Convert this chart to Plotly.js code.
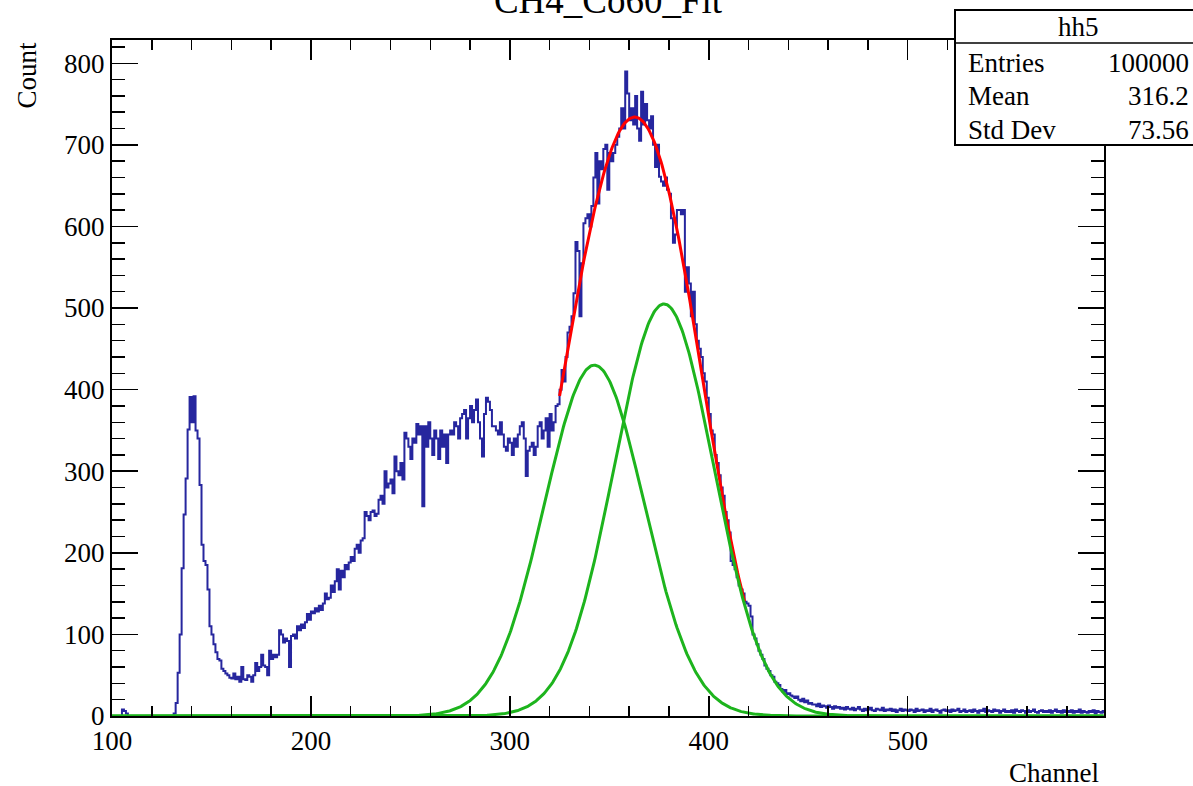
<!DOCTYPE html>
<html>
<head>
<meta charset="utf-8">
<script src="https://cdn.plot.ly/plotly-3.0.1.min.js"></script>
<style>
  html, body { margin: 0; padding: 0; background: #ffffff; }
  #chart { width: 1193px; height: 786px; }
</style>
</head>
<body>
<div id="chart"></div>
<script>
// ---------------- data ----------------
const chartTitle = "CH4_Co60_Fit";
const xTitle = "Channel";
const yTitle = "Count";
const histName = "hh5";
const statLabels = ["Entries", "Mean", "Std Dev"];
const statValues = ["100000", "316.2", "73.56"];

const binStart = 100;   // first bin low edge (channel)
const binWidth = 1;     // channel per bin

// counts per channel, 100-199
const countsA = [
  0,0,0,0,0,8,6,3,0,0,
  0,0,0,0,0,0,0,0,0,0,
  0,0,0,0,0,0,0,0,0,0,
  0,3,16,53,100,181,247,291,351,391,
  360,392,350,340,283,210,190,185,155,110,
  100,88,78,70,68,58,55,52,50,47,
  46,52,45,48,42,60,45,44,50,48,
  42,50,65,55,60,75,62,60,50,80,
  70,75,72,75,105,100,90,95,92,60,
  98,100,95,110,105,112,108,115,125,118
];
// 200-299
const countsB = [
  128,126,132,128,135,130,138,150,143,145,
  160,152,165,180,155,178,170,185,180,188,
  195,190,205,210,200,215,218,250,245,240,
  250,252,245,248,265,270,260,300,280,285,
  290,273,318,300,295,310,290,347,340,330,
  315,340,335,358,345,355,257,355,330,360,
  340,320,350,340,315,350,330,345,310,345,
  350,345,360,355,340,365,370,375,340,365,
  380,360,375,388,360,340,318,370,390,385,
  375,355,355,350,345,360,345,330,325,340
];
// 300-399
const countsC = [
  335,320,340,330,345,355,360,340,294,325,
  330,335,320,330,355,360,340,350,365,330,
  370,350,360,380,382,400,424,410,440,470,
  477,490,518,581,570,490,555,604,610,615,
  600,625,660,690,628,680,670,695,700,645,
  690,680,690,700,710,720,745,720,790,763,
  730,745,725,760,720,705,765,725,750,730,
  720,735,700,673,700,661,655,650,660,645,
  640,610,580,590,620,620,615,620,520,550,
  530,490,520,480,460,450,440,420,410,390
];
// 400-499
const countsD = [
  370,350,345,320,310,295,280,270,250,240,
  225,190,185,180,170,160,155,150,140,138,
  135,122,100,95,88,80,75,70,62,58,
  55,50,48,42,40,38,33,30,32,27,
  28,25,24,22,24,20,18,21,17,19,
  15,16,14,14,12,15,11,13,12,10,
  13,11,9,12,10,11,9,10,8,11,
  9,8,10,7,9,11,8,6,9,7,
  8,10,7,6,9,8,7,10,6,8,
  7,9,6,8,5,7,9,6,8,7
];
// 500-599
const countsE = [
  6,8,7,5,9,6,7,8,5,7,
  6,9,5,7,8,6,4,7,8,6,
  7,5,8,6,7,9,5,6,8,5,
  6,7,5,8,6,4,7,6,9,5,
  7,6,5,8,6,7,4,6,8,5,
  6,5,7,4,8,6,5,7,6,4,
  7,5,6,8,5,4,6,7,5,6,
  5,7,4,6,8,5,6,4,7,5,
  6,5,7,4,6,5,8,4,6,5,
  4,6,5,7,3,6,5,4,6,5
];

// fitted Gaussian components (amplitude, mean, sigma)
const gaussAmp   = [430, 505];
const gaussMean  = [342.5, 377.5];
const gaussSigma = [25, 25];
const fitRange   = [325, 418];   // range of the red total fit

const xRange = [100, 598.7];
const yRange = [0, 828.5];
const xTicks = [100, 200, 300, 400, 500];
const yTicks = [0, 100, 200, 300, 400, 500, 600, 700, 800];

// ---------------- traces ----------------
const counts = [].concat(countsA, countsB, countsC, countsD, countsE);
const hx = [], hy = [];
counts.forEach((c, i) => { hx.push(binStart + i * binWidth); hy.push(c); });
hx.push(binStart + counts.length * binWidth); hy.push(counts[counts.length - 1]);

function gauss(k, x) {
  const d = (x - gaussMean[k]) / gaussSigma[k];
  return gaussAmp[k] * Math.exp(-0.5 * d * d);
}
const gx = [];
for (let x = xRange[0]; x <= xRange[1] + 1e-9; x += 0.5) gx.push(x);
const g1 = gx.map(x => gauss(0, x));
const g2 = gx.map(x => gauss(1, x));
const fx = gx.filter(x => x >= fitRange[0] && x <= fitRange[1]);
const fy = fx.map(x => gauss(0, x) + gauss(1, x));

const FONT = "Liberation Serif, Times New Roman, serif";

const traces = [
  { type: "scatter", mode: "lines", x: hx, y: hy,
    line: { shape: "hv", color: "#26269e", width: 2 }, hoverinfo: "skip" },
  { type: "scatter", mode: "lines", x: fx, y: fy,
    line: { color: "#ff0000", width: 3 }, hoverinfo: "skip" },
  { type: "scatter", mode: "lines", x: gx, y: g1,
    line: { color: "#1db41d", width: 3 }, hoverinfo: "skip" },
  { type: "scatter", mode: "lines", x: gx, y: g2,
    line: { color: "#1db41d", width: 3 }, hoverinfo: "skip" }
];

// ---------------- layout helpers (pixel -> paper) ----------------
const L = 112, R = 1104, T = 40, B = 716;
const W = 1193, H = 786;
const pxX = p => (p - L) / (R - L);
const pxY = p => (B - p) / (B - T);

const annotations = [
  { text: yTitle, textangle: -90, xref: "paper", yref: "paper",
    x: pxX(26), y: 1, xanchor: "center", yanchor: "top", showarrow: false,
    font: { family: FONT, size: 27, color: "#000" } },
  { text: xTitle, xref: "paper", yref: "paper",
    x: pxX(1101), y: pxY(773), xanchor: "right", yanchor: "middle", showarrow: false,
    font: { family: FONT, size: 27, color: "#000" } },
  { text: histName, xref: "paper", yref: "paper",
    x: pxX(1078), y: pxY(27), xanchor: "center", yanchor: "middle", showarrow: false,
    font: { family: FONT, size: 27, color: "#000" } }
];
const rowY = [63, 96, 130];
statLabels.forEach((lab, i) => {
  annotations.push({ text: lab, xref: "paper", yref: "paper",
    x: pxX(966), y: pxY(rowY[i]), xanchor: "left", yanchor: "middle", showarrow: false,
    font: { family: FONT, size: 27, color: "#000" } });
  annotations.push({ text: statValues[i], xref: "paper", yref: "paper",
    x: pxX(1191), y: pxY(rowY[i]), xanchor: "right", yanchor: "middle", showarrow: false,
    font: { family: FONT, size: 27, color: "#000" } });
});

const shapes = [
  { type: "rect", xref: "paper", yref: "paper", layer: "above",
    x0: pxX(955), x1: pxX(1210), y0: pxY(145), y1: pxY(10),
    fillcolor: "#ffffff", line: { color: "#000", width: 2 } },
  { type: "line", xref: "paper", yref: "paper", layer: "above",
    x0: pxX(955), x1: pxX(1210), y0: pxY(43), y1: pxY(43),
    line: { color: "#000", width: 1.5 } }
];

const axisCommon = {
  ticks: "inside", tickcolor: "#000", tickwidth: 1.5,
  showline: true, linecolor: "#000", linewidth: 2, mirror: "ticks",
  showgrid: false, zeroline: false,
  tickfont: { family: FONT, size: 27, color: "#000" }
};

const layout = {
  width: W, height: H,
  margin: { l: L, r: W - R, t: T, b: H - B, pad: 0 },
  paper_bgcolor: "#ffffff", plot_bgcolor: "#ffffff",
  showlegend: false,
  title: { text: chartTitle, font: { family: FONT, size: 37, color: "#000" },
    xref: "paper", x: 0.5, xanchor: "center", yref: "container", y: 1, yanchor: "middle", pad: {t:0,b:0} },
  xaxis: Object.assign({}, axisCommon, {
    range: xRange, tickvals: xTicks, ticklen: 20,
    minor: { ticks: "inside", dtick: 20, tick0: 0, ticklen: 10, tickcolor: "#000", tickwidth: 1.5 }
  }),
  yaxis: Object.assign({}, axisCommon, {
    range: yRange, tickvals: yTicks, ticklen: 26,
    minor: { ticks: "inside", dtick: 20, tick0: 0, ticklen: 13, tickcolor: "#000", tickwidth: 1.5 }
  }),
  annotations: annotations,
  shapes: shapes
};

Plotly.newPlot("chart", traces, layout, { staticPlot: true, displayModeBar: false });
</script>
</body>
</html>
